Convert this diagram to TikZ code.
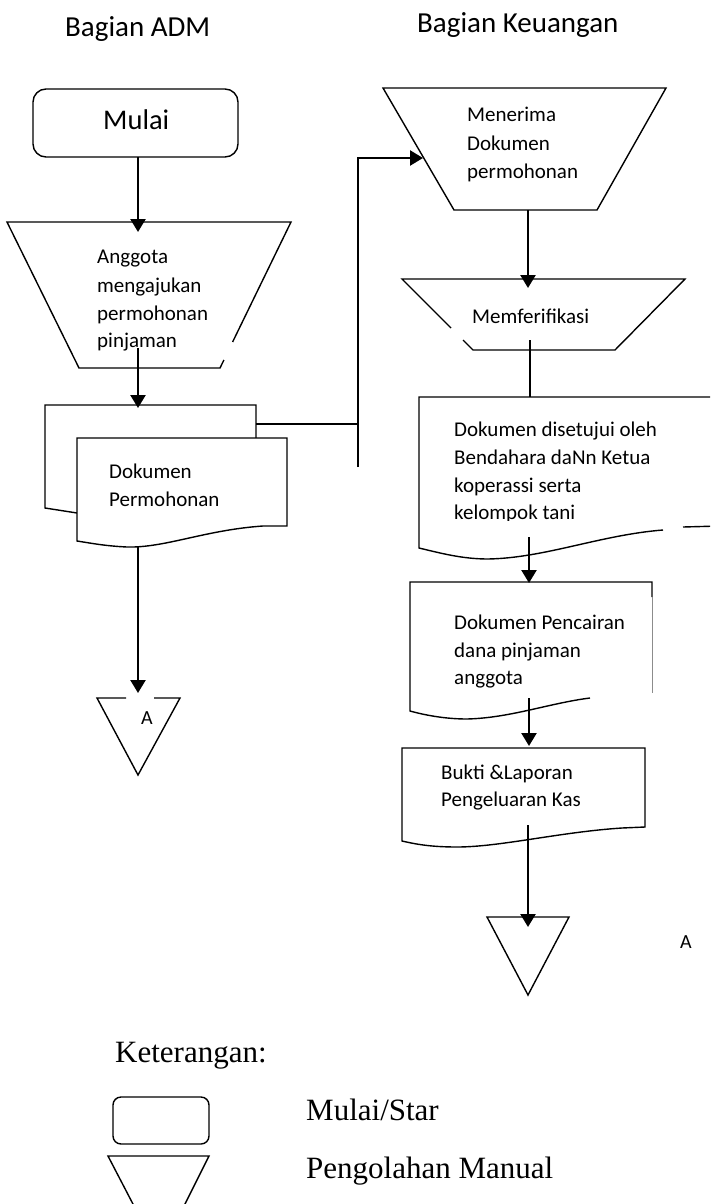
\documentclass[tikz,border=0pt]{standalone}
\usepackage{fontspec}
\setmainfont{Carlito}
\newfontfamily\legendfont{Liberation Serif}
\usetikzlibrary{arrows.meta}
\begin{document}
\begin{tikzpicture}[x=1pt,y=-1pt,
  shapeline/.style={line width=1.4pt, line join=miter},
  conn/.style={line width=2.4pt, -{Triangle[length=13pt,width=15pt]}},
  plainline/.style={line width=2.4pt},
  thinline/.style={line width=1.6pt},
  body/.style={font=\fontsize{21}{28}\selectfont, anchor=base west, inner sep=0pt},
  title/.style={font=\fontsize{29}{34}\selectfont, anchor=base west, inner sep=0pt},
  legendtext/.style={font=\legendfont\fontsize{31}{36}\selectfont, anchor=base west, inner sep=0pt}]
\path[use as bounding box, clip] (0,0) rectangle (710,1204);
\fill[white] (0,0) rectangle (710,1204);

% titles
\node[title] (tadm) at (65,37) {Bagian ADM};
\node[title] (tkeu) at (417,33) {Bagian Keuangan};

% ---- left column ----
\draw[shapeline, rounded corners=13pt] (33,89) rectangle (238,157);
\node[font=\fontsize{28.5}{34}\selectfont, anchor=base west, inner sep=0pt] (mulai) at (103,130) {Mulai};
\coordinate (mulaiB) at (138,157);

\draw[shapeline] (232.6,342) -- (291,222) -- (7,222) -- (79,368) -- (220,368) -- (223.9,360);
\coordinate (trapAin) at (138,232);
\coordinate (trapAout) at (138,348);
\node[body] (a1) at (97,263) {Anggota};
\node[body] (a2) at (97,292) {mengajukan};
\node[body] (a3) at (97,320) {permohonan};
\node[body] (a4) at (97,347) {pinjaman};

% document stack
\draw[shapeline] (256,438) -- (256,405) -- (45,405) -- (45,508) -- (77,513);
\draw[shapeline, fill=white] (77,438) -- (287,438) -- (287,526) -- (263,526)
   .. controls (205,530) and (165,548) .. (127,547)
   .. controls (105,546) and (90,543) .. (77,541) -- cycle;
\coordinate (docAin) at (138,408);
\coordinate (docAout) at (138,547);
\coordinate (docAR) at (256,424);
\node[body] (d1) at (109,478) {Dokumen};
\node[body] (d2) at (109,506) {Permohonan};

% triangle A left
\draw[shapeline] (126,698) -- (97,698) -- (138,775) -- (180,698) -- (154,698);
\coordinate (triAin) at (138,693);
\node[font=\fontsize{20}{24}\selectfont, anchor=base west, inner sep=0pt] (la) at (141,724) {A};

% connectors left
\draw[conn] (mulaiB) -- (trapAin);
\draw[conn] (trapAout) -- (docAin);
\draw[conn] (docAout) -- (triAin);
\coordinate (junc) at (358,424);
\coordinate (vbot) at (358,467);
\coordinate (vtop) at (358,158);
\coordinate (trapBin) at (423,158);
\draw[thinline] (docAR) -- (junc);
\draw[conn] (vbot) -- (vtop) -- (trapBin);

% ---- right column ----
\draw[shapeline] (383,88) -- (666,88) -- (597,210) -- (454,210) -- cycle;
\node[body] (b1) at (467,122) {Menerima};
\node[body] (b2) at (467,150) {Dokumen};
\node[body] (b3) at (467,178) {permohonan};
\coordinate (trapBout) at (528,210);
\coordinate (trapCin) at (528,288);

\draw[shapeline] (463,340) -- (473,350) -- (615,350) -- (685,279) -- (402,279) -- (451,328);
\node[body] (c1) at (472,323) {Memferifikasi};
\coordinate (trapCout) at (530,340);
\coordinate (docCin) at (530,397);

\draw[shapeline] (683,527) -- (720,526) -- (720,397) -- (419,397) -- (419,548)
   .. controls (440,553) and (462,559) .. (488,559)
   .. controls (545,558) and (600,535) .. (663,530);
\node[body] (e1) at (454,436) {Dokumen disetujui oleh};
\node[body] (e2) at (454,464) {Bendahara daNn Ketua};
\node[body] (e3) at (454,492) {koperassi serta};
\begin{scope}
\clip (440,495) rectangle (700,520.5);
\node[body] (e4) at (454,519) {kelompok tani};
\end{scope}
\coordinate (docCout) at (529,537);
\coordinate (docDin) at (529,583);

\draw[shapeline] (652,597) -- (652,582) -- (410,582) -- (410,711)
   .. controls (428,716) and (448,719) .. (467,719)
   .. controls (510,718) and (550,703) .. (590,698);
\draw[line width=0.6pt, black!45] (652,597) -- (652,693);
\node[body] (f1) at (454,629) {Dokumen Pencairan};
\node[body] (f2) at (454,657) {dana pinjaman};
\node[body] (f3) at (454,684) {anggota};
\coordinate (docDout) at (529,698);
\coordinate (docEin) at (529,746);

\draw[shapeline] (402,748) -- (645,748) -- (645,827) -- (622,828)
   .. controls (560,832) and (500,847) .. (457,847)
   .. controls (430,847) and (415,844) .. (402,841) -- cycle;
\node[body] (g1) at (441,779) {Bukti \&Laporan};
\node[body] (g2) at (441,806) {Pengeluaran Kas};
\coordinate (docEout) at (528,825);
\coordinate (triBin) at (528,927);

\draw[shapeline] (487,917) -- (569,917) -- (528,995) -- cycle;
\node[font=\fontsize{20}{24}\selectfont, anchor=base west, inner sep=0pt] (ra) at (680,948) {A};

\draw[conn] (trapBout) -- (trapCin);
\draw[plainline] (trapCout) -- (docCin);
\draw[conn] (docCout) -- (docDin);
\draw[conn] (docDout) -- (docEin);
\draw[conn] (docEout) -- (triBin);

% ---- legend ----
\node[legendtext] (ket) at (115,1062) {Keterangan:};
\draw[shapeline, rounded corners=8pt] (113,1097) rectangle (209,1144);
\node[legendtext] (lm) at (306,1120) {Mulai/Star};
\draw[shapeline] (146.5,1230) -- (108,1156) -- (209,1156) -- (172,1230);
\node[legendtext] (lp) at (306,1178) {Pengolahan Manual};
\end{tikzpicture}
\end{document}
